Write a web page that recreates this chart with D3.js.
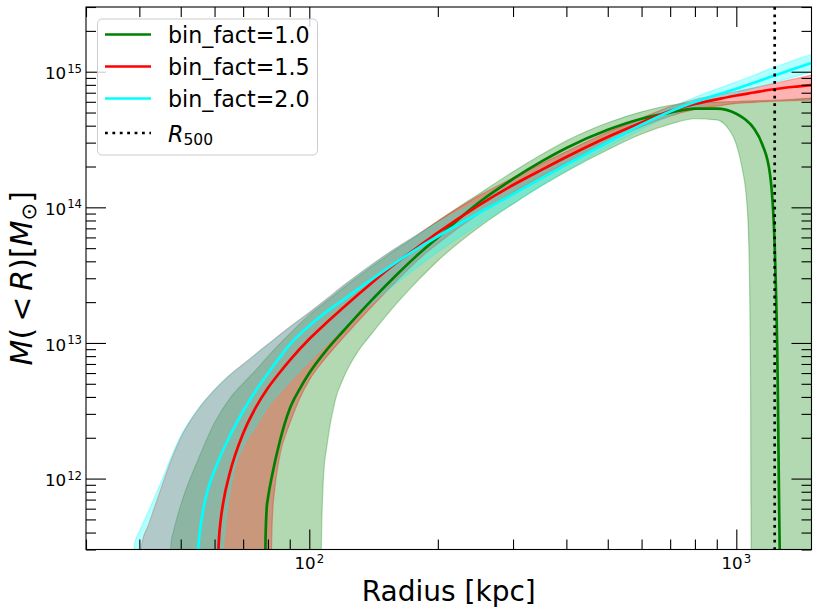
<!DOCTYPE html>
<html><head><meta charset="utf-8">
<script src="https://cdn.jsdelivr.net/npm/d3@7"></script>
<style>
body{margin:0;background:#fff}
svg{display:block}
text{font-family:"DejaVu Sans",sans-serif;fill:#000}
</style>
</head><body>
<svg id="c" width="818" height="613"></svg>
<script>
// ---------------- data (radius [kpc], enclosed mass [Msun]) ----------------
const xDomain = [30, 1500];
const yDomain = [3e11, 3e15];
const xMajorTicks = [100, 1000];
const xMajorExp = ["2", "3"];
const yMajorTicks = [1e12, 1e13, 1e14, 1e15];
const yMajorExp = ["12", "13", "14", "15"];
const R500 = 1230;
const seriesNames = ["bin_fact=1.0", "bin_fact=1.5", "bin_fact=2.0"];
const seriesColors = ["#008000", "#ff0000", "#00ffff"];

// bin_fact = 1.0
const green_mid = [[78.5,1e11],[79,3.68e11],[79.5,6.12e11],[80,7.13e11],[82,1.09e12],[85,1.8e12],[90,3.27e12],[95,4.59e12],[100,6.0e12],[110,8.95e12],[120,1.22e13],[140,2.07e13],[160,3.17e13],[180,4.5e13],[200,6.0e13],[250,1.09e14],[300,1.62e14],[350,2.18e14],[400,2.74e14],[500,3.73e14],[600,4.5e14],[700,4.99e14],[800,5.34e14],[900,5.35e14],[1000,4.9e14],[1050,4.44e14],[1100,3.82e14],[1150,2.92e14],[1200,1.73e14],[1230,5.16e13],[1250,5.3e12],[1260,5.82e11],[1270,1e11]];
const green_hi = [[46.5,1e11],[47.5,3.44e11],[48,4.0e11],[50,6.38e11],[55,1.4e12],[60,2.58e12],[65,3.86e12],[70,5.04e12],[75,6.31e12],[80,7.96e12],[90,1.17e13],[100,1.61e13],[110,2.04e13],[120,2.54e13],[140,3.65e13],[160,4.9e13],[180,6.3e13],[200,7.93e13],[250,1.26e14],[300,1.83e14],[350,2.45e14],[400,3.09e14],[500,4.2e14],[600,5.06e14],[700,5.64e14],[800,5.94e14],[900,5.97e14],[1000,6.03e14],[1100,6.1e14],[1200,6.14e14],[1300,6.21e14],[1400,6.31e14],[1500,6.39e14]];
const green_lo = [[106,1e11],[107,4.94e11],[108,1.05e12],[110,1.76e12],[115,3.78e12],[120,5.45e12],[130,8.65e12],[140,1.17e13],[160,1.95e13],[180,2.91e13],[200,4.04e13],[250,7.16e13],[300,1.06e14],[350,1.44e14],[400,1.84e14],[500,2.66e14],[600,3.47e14],[700,4.11e14],[800,4.5e14],[900,4.41e14],[950,3.93e14],[1000,2.91e14],[1030,2.0e14],[1060,1.02e14],[1070,5.26e13],[1080,4.47e12],[1085,1e11],[1500,1e11]];

// bin_fact = 1.5
const red_mid = [[60.5,1e11],[61.5,3.74e11],[62,4.91e11],[63,6.9e11],[65,1.07e12],[70,2.15e12],[75,3.36e12],[80,4.65e12],[85,5.98e12],[90,7.45e12],[100,1.07e13],[110,1.42e13],[120,1.82e13],[140,2.77e13],[160,3.9e13],[180,5.12e13],[200,6.52e13],[250,1.04e14],[300,1.46e14],[350,1.89e14],[400,2.35e14],[500,3.3e14],[600,4.22e14],[700,5.12e14],[800,5.78e14],[900,6.25e14],[1000,6.68e14],[1100,7.03e14],[1200,7.36e14],[1300,7.62e14],[1400,7.8e14],[1500,7.97e14]];
const red_hi = [[39.5,1e11],[40.5,3.27e11],[42,4.54e11],[45,8.53e11],[48,1.49e12],[50,2.0e12],[55,3.26e12],[60,4.51e12],[65,5.77e12],[70,6.97e12],[75,8.3e12],[80,9.77e12],[90,1.31e13],[100,1.68e13],[110,2.12e13],[120,2.64e13],[140,3.78e13],[160,5.04e13],[180,6.34e13],[200,7.91e13],[250,1.22e14],[300,1.65e14],[350,2.1e14],[400,2.58e14],[500,3.59e14],[600,4.55e14],[700,5.52e14],[800,6.24e14],[900,6.73e14],[1000,7.15e14],[1100,7.61e14],[1200,8.07e14],[1300,8.55e14],[1400,9.0e14],[1500,9.44e14]];
const red_lo = [[81,1e11],[82,5.37e11],[83,8.32e11],[85,1.39e12],[90,2.54e12],[95,3.9e12],[100,5.31e12],[110,7.96e12],[120,1.09e13],[140,1.85e13],[160,2.86e13],[180,4.11e13],[200,5.41e13],[250,9.0e13],[300,1.28e14],[350,1.7e14],[400,2.13e14],[500,3.04e14],[600,3.93e14],[700,4.71e14],[800,5.27e14],[900,5.58e14],[1000,5.84e14],[1100,5.94e14],[1200,6.04e14],[1300,6.1e14],[1400,6.14e14],[1500,6.18e14]];

// bin_fact = 2.0
const cyan_mid = [[54,1e11],[55,3.16e11],[56,5.08e11],[58,8.46e11],[60,1.15e12],[65,2.03e12],[70,3.15e12],[75,4.47e12],[80,5.96e12],[85,7.73e12],[90,9.71e12],[100,1.34e13],[110,1.71e13],[120,2.08e13],[140,2.94e13],[160,3.95e13],[180,5.01e13],[200,6.12e13],[250,9.12e13],[300,1.25e14],[350,1.64e14],[400,2.07e14],[500,3.02e14],[600,4.07e14],[700,5.09e14],[800,5.97e14],[900,6.75e14],[1000,7.48e14],[1100,8.3e14],[1200,9.15e14],[1300,9.96e14],[1400,1.08e15],[1500,1.16e15]];
const cyan_hi = [[38,1e11],[39,3.32e11],[40,4.07e11],[42,5.72e11],[45,9.46e11],[48,1.56e12],[50,2.06e12],[55,3.27e12],[60,4.51e12],[65,5.76e12],[70,6.95e12],[75,8.28e12],[80,9.73e12],[90,1.3e13],[100,1.67e13],[110,2.11e13],[120,2.62e13],[140,3.77e13],[160,5.01e13],[180,6.3e13],[200,7.69e13],[250,1.11e14],[300,1.48e14],[350,1.9e14],[400,2.34e14],[500,3.3e14],[600,4.4e14],[700,5.45e14],[800,6.48e14],[900,7.45e14],[1000,8.41e14],[1100,9.42e14],[1200,1.05e15],[1300,1.15e15],[1400,1.25e15],[1500,1.34e15]];
const cyan_lo = [[62,1e11],[63,3.1e11],[64,5.46e11],[65,7.55e11],[67,1.22e12],[70,1.71e12],[75,2.44e12],[80,3.38e12],[85,4.27e12],[90,5.22e12],[100,7.33e12],[110,9.91e12],[120,1.29e13],[140,1.96e13],[160,2.75e13],[180,3.66e13],[200,4.68e13],[250,7.48e13],[300,1.07e14],[350,1.45e14],[400,1.86e14],[500,2.77e14],[600,3.75e14],[700,4.74e14],[800,5.5e14],[900,6.18e14],[1000,6.87e14],[1100,7.52e14],[1200,8.17e14],[1300,8.77e14],[1400,9.35e14],[1500,9.93e14]];

const series = [
  {name: seriesNames[0], color: seriesColors[0], mid: green_mid, hi: green_hi, lo: green_lo},
  {name: seriesNames[1], color: seriesColors[1], mid: red_mid, hi: red_hi, lo: red_lo},
  {name: seriesNames[2], color: seriesColors[2], mid: cyan_mid, hi: cyan_hi, lo: cyan_lo}
];

// ---------------- layout ----------------
const P = {l: 86, r: 811.5, t: 7, b: 549.5};
const svg = d3.select("#c");
const x = d3.scaleLog().domain(xDomain).range([P.l, P.r]);
const y = d3.scaleLog().domain(yDomain).range([P.b, P.t]);

svg.append("defs").append("clipPath").attr("id", "clip")
  .append("rect").attr("x", P.l).attr("y", P.t).attr("width", P.r - P.l).attr("height", P.b - P.t);

const line = d3.line().x(d => x(d[0])).y(d => y(d[1])).curve(d3.curveMonotoneX);
function bandPath(hi, lo) {
  const a = line(hi);
  const b = line(lo.slice().reverse());
  return a + "L" + b.slice(1) + "Z";
}

const plot = svg.append("g").attr("clip-path", "url(#clip)");
series.forEach(s => {
  plot.append("path").attr("d", bandPath(s.hi, s.lo))
    .attr("fill", s.color).attr("fill-opacity", 0.3)
    .attr("stroke", s.color).attr("stroke-opacity", 0.3).attr("stroke-width", 1.2);
});
series.forEach(s => {
  plot.append("path").attr("d", line(s.mid))
    .attr("fill", "none").attr("stroke", s.color).attr("stroke-width", 2.7)
    .attr("stroke-linejoin", "round");
});
plot.append("line")
  .attr("x1", x(R500)).attr("x2", x(R500)).attr("y1", P.t).attr("y2", P.b)
  .attr("stroke", "#000").attr("stroke-width", 2.7).attr("stroke-dasharray", "2.8,4.6");

// ---------------- axes ----------------
const xMinor = [], yMinor = [];
for (let d = 1; d <= 3; d++) for (let k = 2; k <= 9; k++) { const v = k * Math.pow(10, d); if (v >= xDomain[0] && v <= xDomain[1]) xMinor.push(v); }
for (let d = 11; d <= 15; d++) for (let k = 2; k <= 9; k++) { const v = k * Math.pow(10, d); if (v >= yDomain[0] && v <= yDomain[1]) yMinor.push(v); }

function addAxis(gen, tx, ty, vals, size) {
  const g = svg.append("g").attr("transform", `translate(${tx},${ty})`)
    .call(gen.tickValues(vals).tickSizeInner(-size).tickSizeOuter(0).tickFormat(() => ""));
  g.select(".domain").remove();
  g.selectAll(".tick line").attr("stroke", "#000").attr("stroke-width", 1.1);
}
addAxis(d3.axisBottom(x), 0, P.b, xMajorTicks, 20);
addAxis(d3.axisBottom(x), 0, P.b, xMinor, 10);
addAxis(d3.axisTop(x), 0, P.t, xMajorTicks, 20);
addAxis(d3.axisTop(x), 0, P.t, xMinor, 10);
addAxis(d3.axisLeft(y), P.l, 0, yMajorTicks, 20);
addAxis(d3.axisLeft(y), P.l, 0, yMinor, 10);
addAxis(d3.axisRight(y), P.r, 0, yMajorTicks, 20);
addAxis(d3.axisRight(y), P.r, 0, yMinor, 10);

svg.append("rect").attr("x", P.l).attr("y", P.t).attr("width", P.r - P.l).attr("height", P.b - P.t)
  .attr("fill", "none").attr("stroke", "#000").attr("stroke-width", 1.1);

// tick labels
xMajorTicks.forEach((v, i) => {
  const t = svg.append("text").attr("x", x(v)).attr("y", 569).attr("text-anchor", "middle").attr("font-size", 16.7);
  t.append("tspan").text("10");
  t.append("tspan").attr("dx", 1).attr("dy", -6.5).attr("font-size", 11.7).text(xMajorExp[i]);
});
yMajorTicks.forEach((v, i) => {
  const t = svg.append("text").attr("x", 82).attr("y", y(v) + 7.6).attr("text-anchor", "end").attr("font-size", 16.7);
  t.append("tspan").text("10");
  t.append("tspan").attr("dx", 1).attr("dy", -6.5).attr("font-size", 11.7).text(yMajorExp[i]);
});

// axis labels
svg.append("text").attr("x", (P.l + P.r) / 2).attr("y", 601).attr("text-anchor", "middle")
  .attr("font-size", 28).text("Radius [kpc]");

const yl = svg.append("text").attr("transform", `translate(32,${(P.t + P.b) / 2}) rotate(-90)`)
  .attr("text-anchor", "middle").attr("font-size", 30);
yl.append("tspan").attr("font-style", "italic").text("M");
yl.append("tspan").text("(");
yl.append("tspan").attr("dx", 6).text("<");
yl.append("tspan").attr("dx", 6).attr("font-style", "italic").text("R");
yl.append("tspan").text(")[");
yl.append("tspan").attr("font-style", "italic").text("M");
yl.append("tspan").attr("dy", 4).attr("font-size", 21).text("\u2299");
yl.append("tspan").attr("dy", -4).text("]");

// ---------------- legend ----------------
const lg = svg.append("g");
lg.append("rect").attr("x", 97.5).attr("y", 19).attr("width", 220).attr("height", 136).attr("rx", 4.5)
  .attr("fill", "#fff").attr("fill-opacity", 0.8).attr("stroke", "#cccccc").attr("stroke-width", 1);
const rows = [34.5, 66.5, 98.5, 133];
series.forEach((s, i) => {
  lg.append("line").attr("x1", 105).attr("x2", 151).attr("y1", rows[i]).attr("y2", rows[i])
    .attr("stroke", s.color).attr("stroke-width", 2.7);
  lg.append("text").attr("x", 168).attr("y", rows[i] + 8.5).attr("font-size", 22.2).text(s.name);
});
lg.append("line").attr("x1", 105).attr("x2", 151).attr("y1", rows[3]).attr("y2", rows[3])
  .attr("stroke", "#000").attr("stroke-width", 2.7).attr("stroke-dasharray", "2.8,4.6");
const rt = lg.append("text").attr("x", 168).attr("y", rows[3] + 8.5).attr("font-size", 22.2);
rt.append("tspan").attr("font-style", "italic").text("R");
rt.append("tspan").attr("dy", 3.5).attr("font-size", 15.5).text("500");
</script>
</body></html>
